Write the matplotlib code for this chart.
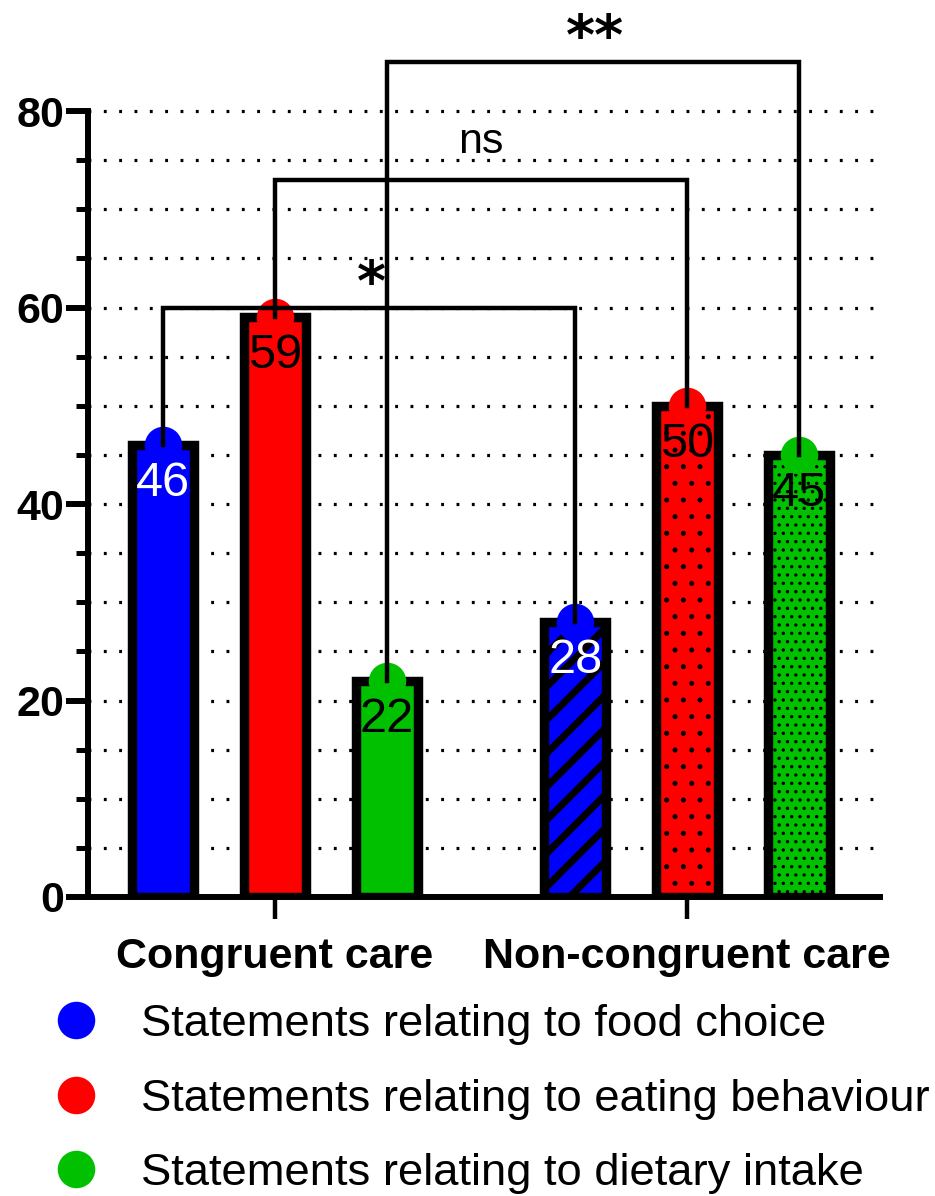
import matplotlib
matplotlib.use("Agg")
import matplotlib.pyplot as plt
from matplotlib.lines import Line2D
import numpy as np

plt.rcParams['font.family'] = ['Liberation Sans', 'DejaVu Sans']

# ---- data ----
groups = ["Congruent care", "Non-congruent care"]
series = ["Statements relating to food choice",
          "Statements relating to eating behaviour",
          "Statements relating to dietary intake"]
congruent = [46, 59, 22]
non_congruent = [28, 50, 45]
colors = ['#0000FF', '#FF0000', '#00C000']
label_colors = ['white', 'black', 'black']
nc_hatches = ['/', '.', '..']
sig_labels = ['*', 'ns', '**']
sig_heights = [60, 73, 85]
yticks_major = [0, 20, 40, 60, 80]

# ---- layout ----
px_per_unit = (897 - 111) / 80
y_top = 80.4
fig = plt.figure(figsize=(9.35, 11.96), dpi=100)
ax = fig.add_axes([88/935, 1-897/1196, 792/935, y_top*px_per_unit/1196])

gap = 1.68
x_c = np.arange(3)
x_n = np.arange(3) + 2 + gap
bar_w = 0.55

for i in range(3):
    ax.bar(x_c[i], congruent[i], width=bar_w, color=colors[i],
           edgecolor='black', linewidth=6.8, zorder=2)
    b = ax.bar(x_n[i], non_congruent[i], width=bar_w, color=colors[i],
               edgecolor='black', linewidth=6.8, hatch=nc_hatches[i], zorder=2)
    lw_h = 5.0 if nc_hatches[i] == '/' else 1.2
    for p in b:
        try:
            p.set_hatch_linewidth(lw_h)
        except AttributeError:
            pass

# markers and value labels
for xs, vals in ((x_c, congruent), (x_n, non_congruent)):
    for i in range(3):
        ax.plot(xs[i], vals[i], 'o', color=colors[i], markersize=27,
                markeredgewidth=0, zorder=3, clip_on=False)
        ax.text(xs[i], vals[i] - 3.9, str(vals[i]), color=label_colors[i],
                ha='center', va='center', fontsize=35, zorder=6)

# significance brackets
for i in range(3):
    h = sig_heights[i]
    x0, x1 = x_c[i], x_n[i]
    ax.plot([x0, x0, x1, x1], [congruent[i], h, h, non_congruent[i]],
            color='black', lw=3.2, zorder=4, clip_on=False,
            solid_joinstyle='miter')
    mid = (x0 + x1) / 2
    if sig_labels[i] == 'ns':
        ax.text(mid, h + 2.7, 'ns', ha='center', va='baseline',
                fontsize=31, zorder=6, clip_on=False)
    else:
        ax.text(mid + 0.02, h + 0.8, sig_labels[i], ha='center', va='baseline',
                fontsize=40, fontweight='bold', family='DejaVu Sans',
                zorder=6, clip_on=False)

# axes styling
ax.set_xlim(-75/112, 717/112)
ax.set_ylim(0, y_top)
ax.spines['top'].set_visible(False)
ax.spines['right'].set_visible(False)
ax.spines['left'].set_bounds(0, 80)
for s in ('left', 'bottom'):
    ax.spines[s].set_linewidth(4.3)
    ax.spines[s].set_capstyle('projecting')

ax.set_yticks(yticks_major)
ax.set_yticklabels([str(v) for v in yticks_major], fontsize=31, fontweight='bold')
ax.set_yticks(np.arange(5, 80, 5), minor=True)
ax.tick_params(axis='y', which='major', length=16, width=4.3, pad=1)
ax.tick_params(axis='y', which='minor', length=8.6, width=3.6)

ax.set_xticks([x_c[1], x_n[1]])
ax.set_xticklabels(groups, fontsize=31, fontweight='bold')
ax.tick_params(axis='x', which='major', length=16, width=3.2, pad=13)

ax.yaxis.grid(True, which='both', color='black', linewidth=2.3,
              linestyle=(0, (0.9, 3.9)))
ax.set_axisbelow(True)

# legend
handles = [Line2D([0], [0], marker='o', linestyle='none', color=c,
                  markersize=27, markeredgewidth=0) for c in colors]
fig.legend(handles, series, loc='upper left',
           bbox_to_anchor=(53/935, 1-1004/1196), frameon=False,
           fontsize=32.7, handlelength=1.0, handletextpad=0.94,
           labelspacing=0.74, borderpad=0, borderaxespad=0)

fig.savefig('out.png', dpi=100)
